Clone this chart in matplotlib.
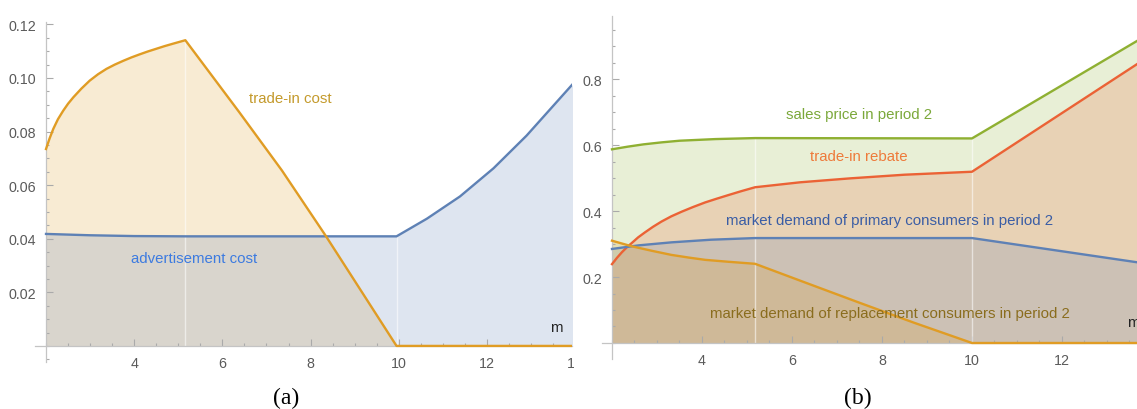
import numpy as np
import matplotlib
matplotlib.use("Agg")
import matplotlib.pyplot as plt
from matplotlib.ticker import MultipleLocator, FixedLocator
from matplotlib.transforms import Bbox, TransformedBbox

plt.rcParams['font.family'] = ['Liberation Sans', 'DejaVu Sans']

# ---- panel (a) data ----
trade_m = [2.0, 2.08, 2.165, 2.27, 2.39, 2.5, 2.62, 2.8, 2.99, 3.18, 3.37, 3.56, 3.75, 3.94,
           4.12, 4.31, 4.5, 4.69, 4.88, 5.16, 6.38, 7.35, 8.34, 9.95, 13.95]
trade_cost = [0.0735, 0.0774, 0.081, 0.0846, 0.0878, 0.0904, 0.0928, 0.096, 0.099, 0.1014,
              0.1034, 0.105, 0.1064, 0.1077, 0.1088, 0.1099, 0.1109, 0.1119, 0.1128, 0.1141,
              0.0873, 0.0655, 0.0412, 0.0, 0.0]
adv_m = [2.0, 3.0, 4.0, 5.16, 9.95, 10.64, 11.39, 12.15, 12.9, 13.95]
adv_cost = [0.0418, 0.0413, 0.041, 0.0409, 0.0409, 0.0475, 0.0558, 0.0663, 0.0785, 0.0978]

# ---- panel (b) data ----
sales_m = [2.0, 2.35, 2.7, 3.1, 3.5, 4.3, 5.18, 10.0, 13.7]
sales_price = [0.587, 0.595, 0.602, 0.608, 0.613, 0.618, 0.621, 0.620, 0.918]
rebate_m = [2.0, 2.11, 2.22, 2.33, 2.44, 2.58, 2.73, 2.91, 3.1, 3.32, 3.55, 3.8, 4.07, 4.32,
            4.58, 4.87, 5.18, 6.18, 7.3, 8.5, 10.0, 13.7]
rebate = [0.239, 0.258, 0.275, 0.29, 0.303, 0.32, 0.335, 0.352, 0.368, 0.384, 0.398, 0.412,
          0.426, 0.437, 0.448, 0.46, 0.472, 0.487, 0.499, 0.51, 0.519, 0.848]
primary_m = [2.0, 2.6, 3.32, 4.2, 5.18, 10.0, 13.7]
primary = [0.285, 0.296, 0.305, 0.313, 0.318, 0.318, 0.244]
replace_m = [2.0, 2.44, 2.9, 3.32, 3.7, 4.07, 4.6, 5.18, 6.18, 7.5, 8.7, 10.0, 13.7]
replace = [0.31, 0.293, 0.279, 0.267, 0.259, 0.252, 0.246, 0.24, 0.189, 0.122, 0.062, 0.0, 0.0]

BLUE = '#5E81B5'
ORANGE = '#E09C24'
GREEN = '#8FB032'
RED = '#EB6235'

fig = plt.figure(figsize=(11.37, 4.10), dpi=100)


def style_axes(ax, ymajor, yminor, yfmt, ylabels_from):
    for s in ['top', 'right']:
        ax.spines[s].set_visible(False)
    ax.spines['left'].set_position(('data', 2))
    ax.spines['bottom'].set_position(('data', 0))
    for s in ['left', 'bottom']:
        ax.spines[s].set_color('#c4c4c4')
        ax.spines[s].set_linewidth(0.9)
    ax.xaxis.set_major_locator(FixedLocator([4, 6, 8, 10, 12, 14]))
    ax.xaxis.set_minor_locator(MultipleLocator(0.5))
    yt = np.arange(ylabels_from, 1.0, ymajor)
    ax.yaxis.set_major_locator(FixedLocator(yt))
    ax.set_yticklabels([yfmt % v for v in yt])
    ax.yaxis.set_minor_locator(MultipleLocator(yminor))
    ax.tick_params(which='both', direction='in', color='#aaaaaa', labelcolor='#5a5a5a',
                   labelsize=10.3, width=0.8)
    ax.tick_params(which='major', length=5, pad=7)
    ax.tick_params(which='minor', length=2.5)
    ax.set_facecolor('none')


# ---------------- (a) ----------------
ax1 = fig.add_axes([35 / 1137, 1 - 363 / 410, 537 / 1137, 340 / 410])
ax1.set_xlim(1.75, 13.93)
ax1.set_ylim(-0.006, 0.1209)
ax1.fill_between(trade_m, trade_cost, 0, color=ORANGE, alpha=0.2, lw=0, zorder=1)
ax1.fill_between(adv_m, adv_cost, 0, color=BLUE, alpha=0.2, lw=0, zorder=1)
for xs in [5.16, 9.95]:
    top = max(np.interp(xs, trade_m, trade_cost), np.interp(xs, adv_m, adv_cost))
    ax1.vlines(xs, 0, top, color='white', alpha=0.55, lw=1, zorder=2)
ax1.plot(adv_m, adv_cost, color=BLUE, lw=1.7, zorder=3)
ax1.plot(trade_m, trade_cost, color=ORANGE, lw=1.7, zorder=4, solid_joinstyle='round')
style_axes(ax1, 0.02, 0.005, '%.2f', 0.02)
ax1.text(7.54, 0.0925, 'trade-in cost', color='#C49A2C', fontsize=10.8, ha='center', va='center')
ax1.text(5.37, 0.0328, 'advertisement cost', color='#3D7BE0', fontsize=10.8, ha='center', va='center')
ax1.text(13.57, 0.0071, 'm', color='#222222', fontsize=10.8, ha='center', va='center')
# the original crop cuts the "14" label at the panel edge
t14 = ax1.text(14, -0.0037, '14', color='#5a5a5a', fontsize=10.3, ha='center', va='top')
t14.set_clip_box(TransformedBbox(Bbox([[0, 0], [574 / 1137, 1]]), fig.transFigure))
t14.set_clip_on(True)

# ---------------- (b) ----------------
ax2 = fig.add_axes([602 / 1137, 1 - 360 / 410, 535 / 1137, 343 / 410])
ax2.set_xlim(1.778, 13.667)
ax2.set_ylim(-0.0485, 0.991)
ax2.fill_between(sales_m, sales_price, 0, color=GREEN, alpha=0.2, lw=0, zorder=1)
ax2.fill_between(rebate_m, rebate, 0, color=RED, alpha=0.2, lw=0, zorder=1)
ax2.fill_between(primary_m, primary, 0, color=BLUE, alpha=0.2, lw=0, zorder=1)
ax2.fill_between(replace_m, replace, 0, color=ORANGE, alpha=0.2, lw=0, zorder=1)
for xs in [5.18, 10.0]:
    top = np.interp(xs, sales_m, sales_price)
    ax2.vlines(xs, 0, top, color='white', alpha=0.55, lw=1, zorder=2)
ax2.plot(sales_m, sales_price, color=GREEN, lw=1.7, zorder=3)
ax2.plot(rebate_m, rebate, color=RED, lw=1.7, zorder=3, solid_joinstyle='round')
ax2.plot(primary_m, primary, color=BLUE, lw=1.7, zorder=3)
ax2.plot(replace_m, replace, color=ORANGE, lw=1.7, zorder=3)
style_axes(ax2, 0.2, 0.05, '%.1f', 0.2)
ax2.text(7.48, 0.694, 'sales price in period 2', color='#7BA83A', fontsize=10.8, ha='center', va='center')
ax2.text(7.48, 0.566, 'trade-in rebate', color='#EE7A3A', fontsize=10.8, ha='center', va='center')
ax2.text(8.17, 0.374, 'market demand of primary consumers in period 2', color='#3A5DA5',
         fontsize=10.8, ha='center', va='center')
ax2.text(8.17, 0.091, 'market demand of replacement consumers in period 2', color='#8A6D1E',
         fontsize=10.8, ha='center', va='center')
ax2.text(13.45, 0.064, 'm', color='#222222', fontsize=10.8, ha='left', va='center', clip_on=False)

fig.text(286 / 1137, 0.029, '(a)', family='Liberation Serif', fontsize=17, ha='center', va='center')
fig.text(858 / 1137, 0.029, '(b)', family='Liberation Serif', fontsize=17, ha='center', va='center')

fig.savefig('out.png', dpi=100)
